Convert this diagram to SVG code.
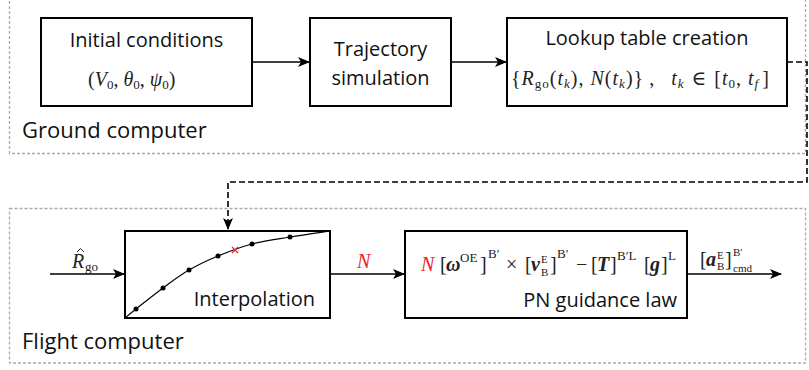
<svg xmlns="http://www.w3.org/2000/svg" width="809" height="370" viewBox="0 0 809 370">
<style>
.frame{fill:none;stroke:#aaa;stroke-width:1.3;stroke-dasharray:3 2}
.box{fill:#fff;stroke:#000;stroke-width:2}
.conn{fill:none;stroke:#000;stroke-width:1.6}
.dash{stroke-dasharray:6 3}
.lbl{font-family:"Open Sans","Noto Sans",sans-serif;font-size:20px;fill:#111}
.big{font-size:22px}
.m{font-family:"Liberation Serif","DejaVu Serif",serif;font-size:20px;fill:#222}
.it{font-style:italic}
.bf{font-weight:bold;font-style:italic}
.s{font-size:13px}
.xs{font-size:11px}
.red{fill:#e8232a}
</style>
<defs>
<marker id="ah" viewBox="0 0 12 10" refX="11" refY="5" markerWidth="12" markerHeight="10" markerUnits="userSpaceOnUse" orient="auto">
<path d="M0,0 L12,5 L0,10 L3,5 z" fill="#000"/>
</marker>
</defs>
<g id="ground">
<rect class="frame" x="9.5" y="-5" width="796" height="158.5"/>
<text class="lbl big" x="22" y="138">Ground computer</text>
</g>
<g id="flight">
<rect class="frame" x="9.5" y="208.5" width="796" height="154.5"/>
<text class="lbl big" x="22" y="349">Flight computer</text>
</g>
<g id="connectors">
<path class="conn" d="M252,62 H309" marker-end="url(#ah)"/>
<path class="conn" d="M451,62 H506" marker-end="url(#ah)"/>
<path class="conn dash" d="M787,62 H807 V182 H228 V229" marker-end="url(#ah)"/>
<path class="conn" d="M50,274 H124" marker-end="url(#ah)"/>
<path class="conn" d="M330,274 H404" marker-end="url(#ah)"/>
<path class="conn" d="M687,274 H781" marker-end="url(#ah)"/>
<text class="m it" x="72" y="268" font-size="18">R</text>
<path d="M77,252 L80.5,248.5 L84,252" fill="none" stroke="#222" stroke-width="1"/>
<text class="m s" x="85" y="271">go</text>
<text class="m it red" x="357" y="268">N</text>
<text class="m"><tspan x="700" y="266">[</tspan><tspan class="bf" x="706" y="266">a</tspan><tspan class="xs" x="717" y="259">E</tspan><tspan class="xs" x="717" y="270">B</tspan><tspan x="725" y="266">]</tspan><tspan class="xs" x="733" y="256">B′</tspan><tspan class="xs" x="733" y="272">cmd</tspan></text>
</g>
<g id="initial">
<rect class="box" x="41" y="18" width="211" height="88"/>
<text class="lbl" x="146.5" y="47" text-anchor="middle">Initial conditions</text>
<text class="m" x="88" y="86" font-size="19">(<tspan class="it">V</tspan><tspan class="s" dy="3">0</tspan><tspan dy="-3">, </tspan><tspan class="it">θ</tspan><tspan class="s" dy="3">0</tspan><tspan dy="-3">, </tspan><tspan class="it">ψ</tspan><tspan class="s" dy="3">0</tspan><tspan dy="-3">)</tspan></text>
</g>
<g id="trajectory">
<rect class="box" x="310" y="18" width="141" height="88"/>
<text class="lbl" x="380.5" y="56" text-anchor="middle">Trajectory</text>
<text class="lbl" x="380.5" y="85" text-anchor="middle">simulation</text>
</g>
<g id="lookup">
<rect class="box" x="507" y="18" width="280" height="88"/>
<text class="lbl" x="647" y="45" text-anchor="middle">Lookup table creation</text>
<text class="m" x="511" y="85" letter-spacing="1">{<tspan class="it">R</tspan><tspan class="s" dy="3">go</tspan><tspan dy="-3">(</tspan><tspan class="it">t</tspan><tspan class="s it" dy="3">k</tspan><tspan dy="-3">), </tspan><tspan class="it">N</tspan>(<tspan class="it">t</tspan><tspan class="s it" dy="3">k</tspan><tspan dy="-3">)}</tspan><tspan dx="5">,</tspan><tspan class="it" dx="16">t</tspan><tspan class="s it" dy="3">k</tspan><tspan dy="-3" dx="7">∈</tspan><tspan dx="7">[</tspan><tspan class="it">t</tspan><tspan class="s" dy="3">0</tspan><tspan dy="-3">, </tspan><tspan class="it">t</tspan><tspan class="s it" dy="3">f</tspan><tspan dy="-3" dx="3">]</tspan></text>
</g>
<g id="interpolation">
<rect class="box" x="125" y="231" width="205" height="87"/>
<path fill="none" stroke="#000" stroke-width="1.2" d="M125,318 C126.8,316.5 129.7,314 136,309 C142.3,304 154.2,294.5 163,288 C171.8,281.5 179.8,275.3 189,270 C198.2,264.7 207.5,260.3 218,256 C228.5,251.7 240,247.2 252,244 C264,240.8 277,239.2 290,237 C303,234.8 323.3,232 330,231"/>
<g fill="#000">
<circle cx="136" cy="309" r="2.5"/>
<circle cx="163" cy="288" r="2.5"/>
<circle cx="189" cy="270" r="2.5"/>
<circle cx="218" cy="256" r="2.5"/>
<circle cx="252" cy="244" r="2.5"/>
<circle cx="290" cy="237" r="2.5"/>
</g>
<path d="M232,247 L238,253 M238,247 L232,253" stroke="#e8232a" stroke-width="1.2"/>
<text class="lbl" x="315" y="306" text-anchor="end">Interpolation</text>
</g>
<g id="pn">
<rect class="box" x="405" y="231" width="282" height="87"/>
<text class="m"><tspan class="it red" x="421" y="271">N</tspan><tspan x="440" y="271">[</tspan><tspan class="bf" x="446" y="271">ω</tspan><tspan class="s" x="460" y="262">OE</tspan><tspan x="480" y="271">]</tspan><tspan class="s" x="488" y="258">B′</tspan><tspan x="506" y="271">×</tspan><tspan x="525" y="271">[</tspan><tspan class="bf" x="531" y="271">v</tspan><tspan class="xs" x="541" y="263">E</tspan><tspan class="xs" x="541" y="276">B</tspan><tspan x="550" y="271">]</tspan><tspan class="s" x="557" y="258">B′</tspan><tspan x="576" y="271">−</tspan><tspan x="591" y="271">[</tspan><tspan class="bf" x="597" y="271">T</tspan><tspan x="610" y="271">]</tspan><tspan class="s" x="617" y="260">B′L</tspan><tspan x="644" y="271">[</tspan><tspan class="bf" x="650" y="271">g</tspan><tspan x="661" y="271">]</tspan><tspan class="s" x="668" y="260">L</tspan></text>
<text class="lbl" x="677" y="307" text-anchor="end">PN guidance law</text>
</g>
</svg>
